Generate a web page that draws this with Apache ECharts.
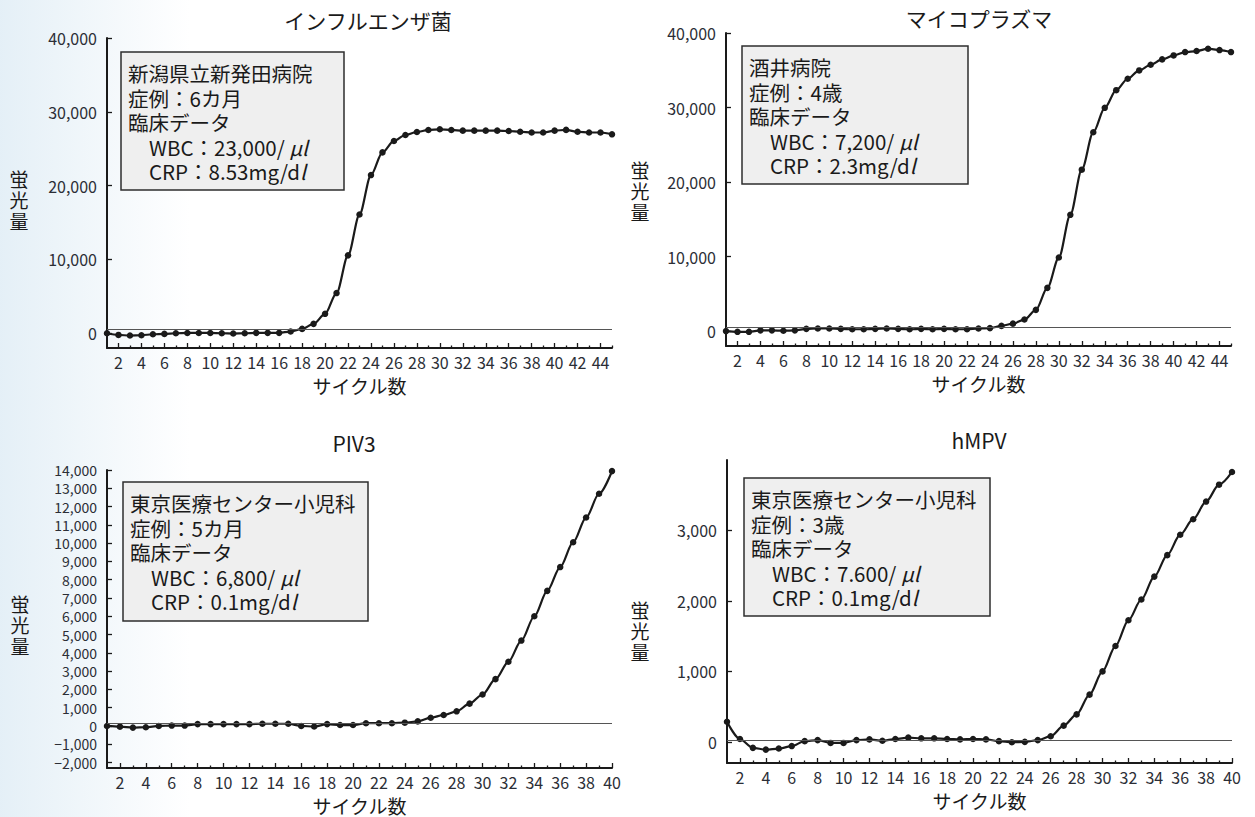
<!DOCTYPE html>
<html>
<head>
<meta charset="utf-8">
<script src="https://cdn.jsdelivr.net/npm/echarts@6/dist/echarts.min.js"></script>
<style>
  html, body { margin: 0; padding: 0; background: #ffffff; }
  #chart { width: 1255px; height: 817px; }
</style>
</head>
<body>
<div id="chart"></div>
<script>
// Real-time PCR amplification curves (fluorescence per cycle), four pathogens.

const panelTitles = ['インフルエンザ菌', 'マイコプラズマ', 'PIV3', 'hMPV'];
const yAxisName = '蛍光量';
const xAxisName = 'サイクル数';

// Fluorescence values, one per cycle starting from cycle 1
const influenzaValues = [
  0, -230, -310, -270, -140, -90, 0, 40, 40, 40, 0, -40, 0, 50, 50, 50,
  230, 590, 1270, 2630, 5440, 10550, 16080, 21430, 24500, 26050, 26860, 27270,
  27540, 27630, 27540, 27450, 27450, 27450, 27450, 27400, 27300, 27200, 27200,
  27450, 27550, 27300, 27200, 27200, 26950
];
const mycoplasmaValues = [
  0, -100, -100, 100, 100, 50, 100, 300, 350, 350, 300, 250, 250, 300, 350, 300,
  250, 300, 250, 300, 250, 250, 350, 400, 700, 1000, 1550, 2850, 5800, 9870,
  15600, 21660, 26680, 29960, 32330, 33860, 34980, 35740, 36460, 36990, 37440,
  37580, 37890, 37710, 37440
];
const piv3Values = [
  0, -40, -90, -70, 0, 20, 20, 100, 100, 100, 100, 100, 120, 120, 120, 0, -30,
  100, 50, 50, 150, 150, 150, 180, 250, 450, 600, 800, 1220, 1720, 2560, 3510,
  4670, 6000, 7390, 8690, 10050, 11400, 12700, 13940
];
const hmpvValues = [
  285, 40, -85, -110, -95, -60, 10, 25, -15, -15, 25, 35, 15, 40, 60, 50, 50, 40,
  35, 40, 35, 10, -5, 0, 25, 80, 230, 390, 670, 1000, 1360, 1725, 2020, 2345,
  2650, 2940, 3160, 3410, 3650, 3830
];

// Baseline (threshold) level drawn across each panel
const baselineLevels = [540, 540, 170, 25];

// Axis ranges and labelled ticks
const cycleMax = [45, 45, 40, 40];
const yMin = [-2000, -2000, -2300, -300];
const yMax = [40000, 40000, 14000, 4000];
const yTickValues = [
  [0, 10000, 20000, 30000, 40000],
  [0, 10000, 20000, 30000, 40000],
  [-2000, -1000, 0, 1000, 2000, 3000, 4000, 5000, 6000, 7000, 8000, 9000, 10000, 11000, 12000, 13000, 14000],
  [0, 1000, 2000, 3000]
];
const evenCycles45 = [2, 4, 6, 8, 10, 12, 14, 16, 18, 20, 22, 24, 26, 28, 30, 32, 34, 36, 38, 40, 42, 44];
const oddCycles45 = [3, 5, 7, 9, 11, 13, 15, 17, 19, 21, 23, 25, 27, 29, 31, 33, 35, 37, 39, 41, 43, 45];
const evenCycles40 = [2, 4, 6, 8, 10, 12, 14, 16, 18, 20, 22, 24, 26, 28, 30, 32, 34, 36, 38, 40];
const oddCycles40 = [3, 5, 7, 9, 11, 13, 15, 17, 19, 21, 23, 25, 27, 29, 31, 33, 35, 37, 39];

// Case notes shown in each panel's box
const caseNotes = [
  ['新潟県立新発田病院', '症例：6カ月', '臨床データ', 'WBC：23,000/ {it|μl}', 'CRP：8.53mg/d{it|l}'],
  ['酒井病院', '症例：4歳', '臨床データ', 'WBC：7,200/ {it|μl}', 'CRP：2.3mg/d{it|l}'],
  ['東京医療センター小児科', '症例：5カ月', '臨床データ', 'WBC：6,800/ {it|μl}', 'CRP：0.1mg/d{it|l}'],
  ['東京医療センター小児科', '症例：3歳', '臨床データ', 'WBC：7.600/ {it|μl}', 'CRP：0.1mg/d{it|l}']
];

const seriesValues = [influenzaValues, mycoplasmaValues, piv3Values, hmpvValues];

// ---- layout ----
const FONT = '"Noto Sans CJK JP", "Noto Sans", sans-serif';
const INK = '#1a1a1a';
const LABEL = '#2b2e36';

const grids = [
  { left: 107, top: 38, width: 505, height: 310 },
  { left: 726, top: 33, width: 505, height: 313 },
  { left: 107, top: 470, width: 505, height: 298 },
  { left: 727, top: 460, width: 505, height: 303 }
];
const boxes = [
  { x: 121, y: 52, w: 223, h: 138 },
  { x: 742, y: 46, w: 226, h: 138 },
  { x: 123, y: 482, w: 245, h: 139 },
  { x: 744, y: 478, w: 246, h: 138 }
];
const titlePos = [[368, 20], [979, 18], [354, 443], [979, 440]];
const yNamePos = [[19, 199], [640, 190], [20, 624], [640, 630]];

function fmt(v) {
  const s = echarts.format.addCommas(Math.abs(v));
  return v < 0 ? '−' + s : s;
}

const xAxes = [], yAxes = [], series = [];
const graphics = [
  // faint tint along the left margin of the page
  {
    type: 'rect', z: -10, silent: true,
    shape: { x: 0, y: 0, width: 190, height: 817 },
    style: {
      fill: new echarts.graphic.LinearGradient(0, 0, 1, 0, [
        { offset: 0, color: 'rgba(214,231,242,0.65)' },
        { offset: 1, color: 'rgba(214,231,242,0)' }
      ])
    }
  }
];

grids.forEach((g, i) => {
  const evens = cycleMax[i] === 45 ? evenCycles45 : evenCycles40;
  const odds = cycleMax[i] === 45 ? oddCycles45 : oddCycles40;

  // main cycle axis: line, long ticks and labels on even cycles
  xAxes.push({
    type: 'value', gridIndex: i, min: 1, max: cycleMax[i], position: 'bottom',
    name: xAxisName, nameLocation: 'middle', nameGap: 27,
    nameTextStyle: { fontFamily: FONT, fontSize: 19, lineHeight: 20, color: INK },
    axisLine: { show: true, onZero: false, lineStyle: { color: INK, width: 2 } },
    axisTick: { show: true, inside: true, length: 5, customValues: evens, lineStyle: { color: INK, width: 1.3 } },
    axisLabel: { show: true, customValues: evens, margin: 5, fontFamily: FONT, fontSize: 16, lineHeight: 17, color: LABEL, formatter: v => String(v) },
    splitLine: { show: false }
  });
  // short ticks on odd cycles
  xAxes.push({
    type: 'value', gridIndex: i, min: 1, max: cycleMax[i], position: 'bottom',
    axisLine: { show: false, onZero: false },
    axisTick: { show: true, inside: true, length: 2.5, customValues: odds, lineStyle: { color: INK, width: 1.3 } },
    axisLabel: { show: false },
    splitLine: { show: false }
  });

  yAxes.push({
    type: 'value', gridIndex: i, min: yMin[i], max: yMax[i],
    axisLine: { show: true, onZero: false, lineStyle: { color: INK, width: 2 } },
    axisTick: { show: true, inside: true, length: 5, customValues: yTickValues[i], lineStyle: { color: INK, width: 1.3 } },
    axisLabel: {
      show: true, customValues: yTickValues[i], margin: 10, fontFamily: FONT,
      fontSize: i === 2 ? 14 : 16, lineHeight: i === 2 ? 15 : 18, color: LABEL, formatter: fmt
    },
    splitLine: { show: false }
  });

  series.push({
    type: 'line', xAxisIndex: i * 2, yAxisIndex: i,
    data: seriesValues[i].map((v, k) => [k + 1, v]),
    symbol: 'circle', symbolSize: 6.5, smooth: 0.3, smoothMonotone: 'x',
    lineStyle: { color: INK, width: 2.2 },
    itemStyle: { color: INK },
    markLine: {
      silent: true, symbol: 'none', label: { show: false },
      lineStyle: { color: '#555', width: 1, type: 'solid' },
      data: [{ yAxis: baselineLevels[i] }]
    },
    z: 3
  });

  // panel title
  graphics.push({
    type: 'text', z: 5,
    style: { x: titlePos[i][0], y: titlePos[i][1], text: panelTitles[i], font: '21px ' + FONT, fill: INK, textAlign: 'center', textVerticalAlign: 'middle' }
  });

  // vertical axis name, one character per line
  graphics.push({
    type: 'text', z: 5,
    style: {
      x: yNamePos[i][0], y: yNamePos[i][1], text: yAxisName.split('').join('\n'),
      font: '19px ' + FONT, lineHeight: 21, fill: INK, textAlign: 'center', textVerticalAlign: 'middle'
    }
  });

  // case-note box
  const b = boxes[i];
  graphics.push({
    type: 'rect', shape: { x: b.x, y: b.y, width: b.w, height: b.h },
    style: { fill: '#efefef', stroke: '#2e2e2e', lineWidth: 1.5 }, z: 10
  });
  caseNotes[i].forEach((line, k) => {
    graphics.push({
      type: 'text', z: 11,
      style: {
        x: b.x + (k >= 3 ? 28 : 7), y: b.y + 21 + k * 24.5,
        text: line, font: '20.5px ' + FONT, lineHeight: 23, fill: INK, textVerticalAlign: 'middle',
        rich: { it: { fontStyle: 'italic', fontSize: 20.5, lineHeight: 23, fontFamily: FONT, fill: INK } }
      }
    });
  });
});

const chart = echarts.init(document.getElementById('chart'), null, { renderer: 'svg' });
chart.setOption({
  backgroundColor: '#ffffff',
  animation: false,
  grid: grids,
  xAxis: xAxes,
  yAxis: yAxes,
  series: series,
  graphic: graphics
});
</script>
</body>
</html>
